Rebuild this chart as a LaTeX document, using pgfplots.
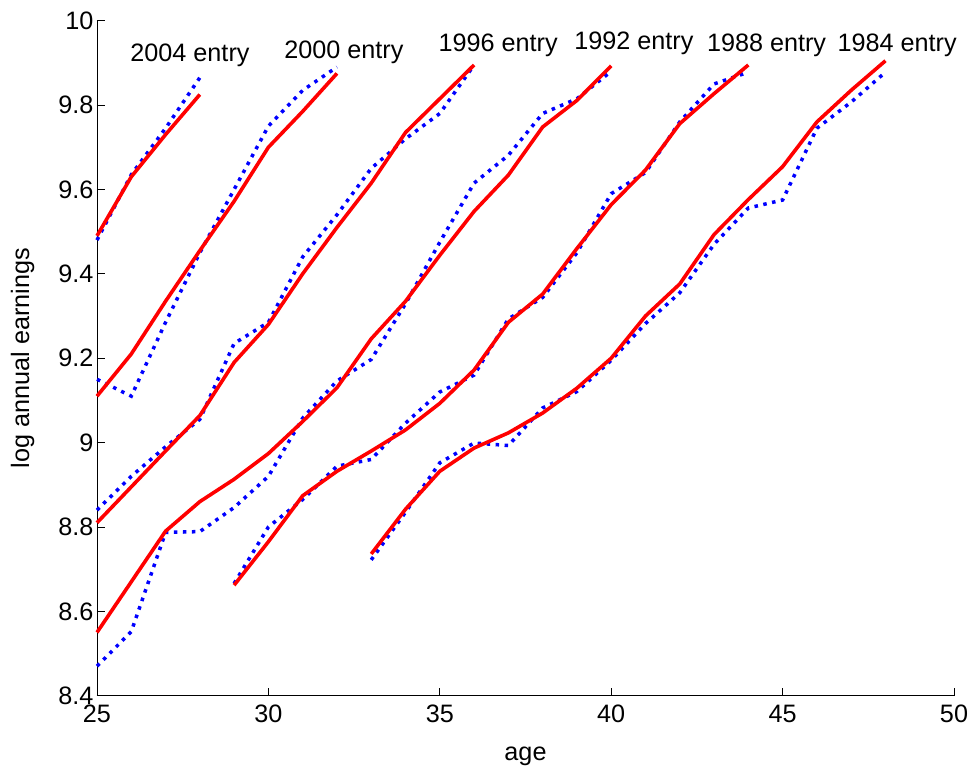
\documentclass[border=0pt]{standalone}
\usepackage{pgfplots}
\pgfplotsset{compat=1.18}
\usepackage{fontspec}
\setmainfont{Liberation Sans}
\newcommand{\bigf}{\fontsize{25.2}{30}\selectfont}
\begin{document}
\begin{tikzpicture}
\useasboundingbox (-97pt,-75pt) rectangle (876pt,695.7pt);
\begin{axis}[
  at={(0pt,0pt)}, anchor=south west,
  scale only axis, width=857pt, height=675pt,
  xmin=25, xmax=50, ymin=8.4, ymax=10,
  axis x line*=bottom, axis y line*=left,
  xtick={25,30,35,40,45,50},
  ytick={8.4,8.6,8.8,9,9.2,9.4,9.6,9.8,10},
  tick align=inside, major tick length=8pt,
  axis line style={line width=0.8pt, black},
  every tick/.style={black, line width=0.8pt},
  tick label style={font=\bigf},
  /pgf/number format/assume math mode=true,
  xticklabel style={yshift=-6pt},
  label style={font=\bigf},
  xlabel={age}, ylabel={log annual earnings},
  xlabel style={at={(axis description cs:0.5,-0.0963)}, anchor=base},
  ylabel style={at={(axis description cs:-0.0793,0.5)}, anchor=base},
  clip=false,
  blueline/.style={color={rgb,255:red,0;green,0;blue,255}, line width=3.5pt, dash pattern=on 3.5pt off 5.5pt},
  redline/.style={color={rgb,255:red,255;green,0;blue,0}, line width=3.6pt},
]
% ---- data (dotted blue) ----
\addplot[blueline] coordinates {(25,9.48)(26,9.635)(27,9.745)(28,9.865)};
\addplot[blueline] coordinates {(25,9.15)(26,9.11)(27,9.285)(28,9.45)(29,9.60)(30,9.75)(31,9.835)(32,9.89)};
\addplot[blueline] coordinates {(25,8.84)(26,8.92)(27,8.99)(28,9.055)(29,9.235)(30,9.285)(31,9.44)(32,9.54)(33,9.65)(34,9.72)(35,9.78)(36,9.895)};
\addplot[blueline] coordinates {(25,8.47)(26,8.552)(27,8.787)(28,8.789)(29,8.846)(30,8.92)(31,9.058)(32,9.146)(33,9.197)(34,9.329)(35,9.475)(36,9.615)(37,9.681)(38,9.78)(39,9.815)(40,9.88)};
\addplot[blueline] coordinates {(29,8.666)(30,8.80)(31,8.865)(32,8.944)(33,8.96)(34,9.046)(35,9.12)(36,9.16)(37,9.293)(38,9.344)(39,9.45)(40,9.59)(41,9.64)(42,9.76)(43,9.85)(44,9.878)};
\addplot[blueline] coordinates {(33,8.722)(34,8.835)(35,8.952)(36,8.999)(37,8.993)(38,9.082)(39,9.121)(40,9.195)(41,9.282)(42,9.355)(43,9.47)(44,9.556)(45,9.575)(46,9.745)(47,9.807)(48,9.878)};
% ---- model (solid red) ----
\addplot[redline] coordinates {(25,9.49)(26,9.63)(27,9.73)(28,9.825)};
\addplot[redline] coordinates {(25,9.11)(26,9.21)(27,9.335)(28,9.455)(29,9.572)(30,9.70)(31,9.785)(32,9.875)};
\addplot[redline] coordinates {(25,8.81)(26,8.895)(27,8.98)(28,9.064)(29,9.19)(30,9.28)(31,9.40)(32,9.51)(33,9.615)(34,9.735)(35,9.815)(36,9.895)};
\addplot[redline] coordinates {(25,8.55)(26,8.67)(27,8.79)(28,8.86)(29,8.913)(30,8.974)(31,9.05)(32,9.13)(33,9.246)(34,9.335)(35,9.444)(36,9.548)(37,9.634)(38,9.748)(39,9.811)(40,9.893)};
\addplot[redline] coordinates {(29,8.662)(30,8.765)(31,8.874)(32,8.932)(33,8.98)(34,9.03)(35,9.093)(36,9.172)(37,9.285)(38,9.352)(39,9.46)(40,9.564)(41,9.646)(42,9.756)(43,9.827)(44,9.895)};
\addplot[redline] coordinates {(33,8.736)(34,8.842)(35,8.932)(36,8.987)(37,9.023)(38,9.07)(39,9.129)(40,9.2)(41,9.30)(42,9.376)(43,9.493)(44,9.576)(45,9.654)(46,9.76)(47,9.835)(48,9.905)};
% ---- labels ----
\node[anchor=base west, inner sep=0pt, font=\bigf] at (axis cs:25.97,9.903) {2004 entry};
\node[anchor=base west, inner sep=0pt, font=\bigf] at (axis cs:30.46,9.911) {2000 entry};
\node[anchor=base west, inner sep=0pt, font=\bigf] at (axis cs:34.96,9.927) {1996 entry};
\node[anchor=base west, inner sep=0pt, font=\bigf] at (axis cs:38.92,9.932) {1992 entry};
\node[anchor=base west, inner sep=0pt, font=\bigf] at (axis cs:42.79,9.927) {1988 entry};
\node[anchor=base west, inner sep=0pt, font=\bigf] at (axis cs:46.60,9.927) {1984 entry};
\end{axis}
\end{tikzpicture}
\end{document}
